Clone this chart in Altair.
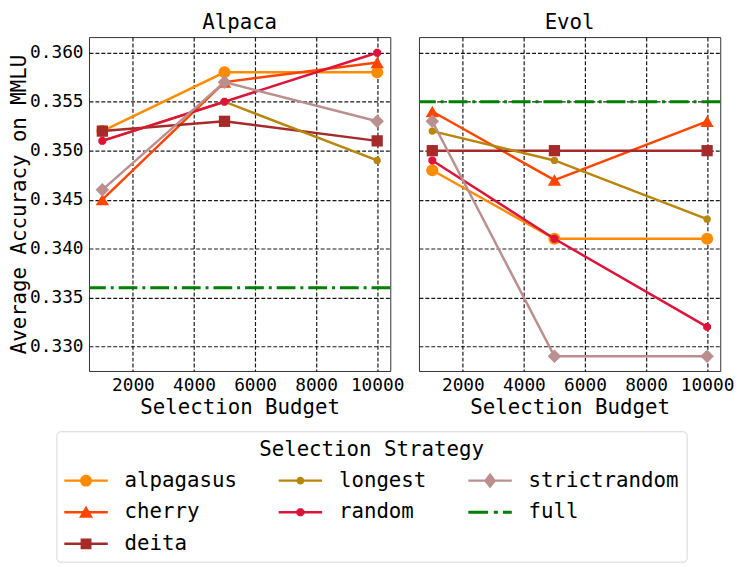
import math
import altair as alt
import pandas as pd

FONT = "DejaVu Sans Mono"

budgets = [1000, 5000, 10000]
strategies = ["alpagasus", "cherry", "deita", "longest", "random", "strictrandom"]

alpaca_alpagasus = [0.352, 0.358, 0.358]
alpaca_cherry = [0.345, 0.357, 0.359]
alpaca_deita = [0.352, 0.353, 0.351]
alpaca_longest = [0.351, 0.355, 0.349]
alpaca_random = [0.351, 0.355, 0.360]
alpaca_strictrandom = [0.346, 0.357, 0.353]
alpaca_full = 0.336

evol_alpagasus = [0.348, 0.341, 0.341]
evol_cherry = [0.354, 0.347, 0.353]
evol_deita = [0.350, 0.350, 0.350]
evol_longest = [0.352, 0.349, 0.343]
evol_random = [0.349, 0.341, 0.332]
evol_strictrandom = [0.353, 0.329, 0.329]
evol_full = 0.355

y_ticks = [0.330, 0.335, 0.340, 0.345, 0.350, 0.355, 0.360]
x_ticks = [2000, 4000, 6000, 8000, 10000]

colors = {
    "alpagasus": "#FF8C00",
    "cherry": "#FF4500",
    "deita": "#A52A2A",
    "longest": "#B8860B",
    "random": "#DC143C",
    "strictrandom": "#BC8F8F",
    "full": "#008000",
}

# legend order (row-major fill of 3 columns gives the column-major look)
legend_order = ["alpagasus", "longest", "strictrandom", "cherry", "random", "full", "deita"]

series = {
    "Alpaca": dict(zip(strategies, [alpaca_alpagasus, alpaca_cherry, alpaca_deita,
                                    alpaca_longest, alpaca_random, alpaca_strictrandom])),
    "Evol": dict(zip(strategies, [evol_alpagasus, evol_cherry, evol_deita,
                                  evol_longest, evol_random, evol_strictrandom])),
}
fulls = {"Alpaca": alpaca_full, "Evol": evol_full}

# one table per dataset ("full" rows have no budget)
rows = []
for ds in ["Alpaca", "Evol"]:
    for s in legend_order:
        if s == "full":
            rows.append({"dataset": ds, "strategy": s, "budget": None, "acc": fulls[ds]})
        else:
            for b, v in zip(budgets, series[ds][s]):
                rows.append({"dataset": ds, "strategy": s, "budget": b, "acc": v})
df = pd.DataFrame(rows)


def poly(pts):
    return "M" + "L".join(f"{x:.3f},{y:.3f}" for x, y in pts) + "Z"


def octagon(r):
    pts = []
    for k in range(8):
        a = math.radians(22.5 + 45 * k)
        pts.append((r * math.cos(a), r * math.sin(a)))
    return poly(pts)


def circ(r):
    return f"M{r},0A{r},{r} 0 1,1 {-r},0A{r},{r} 0 1,1 {r},0Z"


mark_shapes = {
    "alpagasus": ("circle", 150),
    "cherry": ("triangle-up", 180),
    "deita": ("square", 130),
    "longest": ("circle", 55),
    "random": (octagon(1.0), 75),
    "strictrandom": ("diamond", 190),
}

line_bar = "M-1,-0.057H1V0.057H-1Z"

legend_paths = {
    "alpagasus": line_bar + circ(0.273),
    "cherry": line_bar + poly([(0, -0.3), (0.32, 0.25), (-0.32, 0.25)]),
    "deita": line_bar + "M-0.25,-0.25H0.25V0.25H-0.25Z",
    "longest": line_bar + circ(0.18),
    "random": line_bar + octagon(0.2),
    "strictrandom": line_bar + poly([(0, -0.36), (0.28, 0), (0, 0.36), (-0.28, 0)]),
    "full": "M-1,-0.068H-0.09V0.068H-1Z M0.17,-0.068H0.36V0.068H0.17Z M0.59,-0.068H1V0.068H0.59Z",
}

# plot colour scale carries one unused extra entry so that its legend (disabled)
# is not merged with the visible fill/shape legend
color_scale = alt.Scale(domain=legend_order + ["~"], range=[colors[s] for s in legend_order] + ["#000000"])
fill_scale = alt.Scale(domain=legend_order, range=[colors[s] for s in legend_order])
shape_scale = alt.Scale(domain=legend_order, range=[legend_paths[s] for s in legend_order])

x_scale = alt.Scale(domain=[563, 10430], nice=False, zero=False)
y_scale = alt.Scale(domain=[0.3275, 0.3616], nice=False, zero=False)

legend_cfg = dict(
    title="Selection Strategy",
    values=legend_order,
    orient="none",
    direction="horizontal",
    legendX=-33,
    legendY=399,
    columns=3,
    columnPadding=42,
    rowPadding=-12,
    symbolSize=1936,
    symbolStrokeWidth=0,
    symbolOpacity=1,
    labelFont=FONT,
    labelFontSize=21,
    labelColor="black",
    labelOffset=17,
    labelLimit=400,
    titleFont=FONT,
    titleFontSize=21,
    titleFontWeight="normal",
    titleColor="black",
    titleAnchor="middle",
    titleLimit=700,
    titlePadding=-1,
    strokeColor="#d6d6d6",
    fillColor="white",
    cornerRadius=4,
    padding=8,
)

legend_df = pd.DataFrame({"strategy": legend_order})


def panel(ds, first):
    data = df[df["dataset"] == ds]
    base = alt.Chart(data)
    x_enc = alt.X(
        "budget:Q",
        scale=x_scale,
        axis=alt.Axis(title="Selection Budget", values=x_ticks, format="d"),
    )
    if first:
        y_axis = alt.Axis(title="Average Accuracy on MMLU", values=y_ticks, format=".3f")
    else:
        y_axis = alt.Axis(title=None, values=y_ticks, labels=False)
    y_enc = alt.Y("acc:Q", scale=y_scale, axis=y_axis)
    col = alt.Color("strategy:N", scale=color_scale, legend=None)
    layers = []
    for s in strategies:
        sub = base.transform_filter(alt.datum.strategy == s)
        layers.append(sub.mark_line(strokeWidth=2.5).encode(x=x_enc, y=y_enc, color=col))
        shp, sz = mark_shapes[s]
        layers.append(
            sub.mark_point(filled=True, opacity=1, shape=shp, size=sz).encode(x=x_enc, y=y_enc, color=col)
        )
    layers.append(
        base.transform_filter(alt.datum.strategy == "full")
        .mark_rule(strokeWidth=3, strokeDash=[19, 5, 3, 5])
        .encode(y=y_enc, color=col)
    )
    if first:
        layers.append(
            alt.Chart(legend_df)
            .mark_point(filled=True, opacity=0)
            .encode(
                x=alt.value(150),
                y=alt.value(150),
                fill=alt.Fill("strategy:N", scale=fill_scale, legend=alt.Legend(**legend_cfg)),
                shape=alt.Shape("strategy:N", scale=shape_scale, legend=alt.Legend(**legend_cfg)),
            )
        )
    return alt.layer(*layers).properties(width=305, height=338, title=ds)


chart = (
    alt.hconcat(panel("Alpaca", True), panel("Evol", False), spacing=29, bounds="flush")
    .configure(background="white", padding={"left": 0, "top": 0, "right": 5, "bottom": 2})
    .configure_view(stroke="#333333", strokeWidth=1)
    .configure_axis(
        labelFont=FONT,
        titleFont=FONT,
        labelFontSize=18,
        titleFontSize=21,
        titleFontWeight="normal",
        labelColor="black",
        titleColor="black",
        domain=False,
        ticks=False,
        labelPadding=6,
        grid=True,
        gridColor="#000000",
        gridDash=[4, 2],
        gridWidth=1.2,
        gridOpacity=0.9,
        labelFlush=False,
    )
    .configure_axisX(titlePadding=2)
    .configure_axisY(titlePadding=0)
    .configure_title(font=FONT, fontSize=21, fontWeight="normal", color="black", offset=0, anchor="middle")
)

chart.save("out.html", embed_options={"renderer": "svg", "actions": False})
